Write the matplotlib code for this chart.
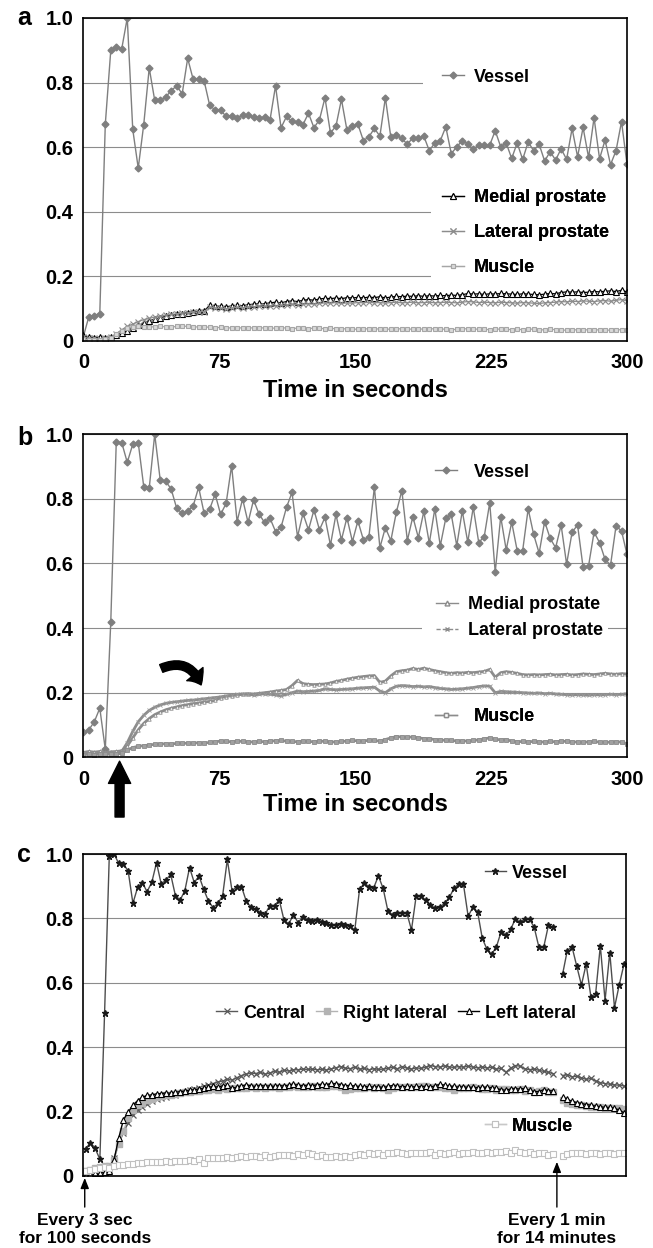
import numpy as np
import matplotlib
matplotlib.use("Agg")
import matplotlib.pyplot as plt
from matplotlib.lines import Line2D
from matplotlib.patches import Rectangle

nan = np.nan

# ---------------- panel a ----------------
vessel_a = [0.013, 0.075, 0.078, 0.085, 0.671, 0.90, 0.91, 0.905, 1.0, 0.655,
            0.535, 0.67, 0.845, 0.745, 0.745, 0.755, 0.775, 0.79, 0.765, 0.875,
            0.81, 0.812, 0.805, 0.73, 0.715, 0.715, 0.695, 0.697, 0.69, 0.70,
            0.70, 0.693, 0.69, 0.693, 0.685, 0.79, 0.66, 0.695, 0.68, 0.677,
            0.67, 0.705, 0.66, 0.685,
            0.753, 0.644, 0.665, 0.748, 0.653, 0.665, 0.671, 0.62, 0.632, 0.658,
            0.634, 0.753, 0.63, 0.637, 0.627, 0.609, 0.629, 0.627, 0.634, 0.589,
            0.613, 0.62, 0.663, 0.580, 0.601, 0.62, 0.611, 0.593, 0.608, 0.606,
            0.606, 0.651, 0.601, 0.613, 0.565, 0.613, 0.562, 0.616, 0.589, 0.609,
            0.557, 0.586, 0.560, 0.595, 0.562, 0.658, 0.570, 0.661, 0.568, 0.691,
            0.564, 0.622, 0.546, 0.589, 0.679, 0.547]
medial_a = [0.018, 0.012, 0.010, 0.012, 0.010, 0.012, 0.018, 0.025, 0.032, 0.040,
            0.048, 0.055, 0.062, 0.068, 0.072, 0.076, 0.080, 0.082, 0.085, 0.088,
            0.090, 0.092, 0.093, 0.110, 0.108, 0.107, 0.106, 0.108, 0.110, 0.109,
            0.112, 0.114, 0.116, 0.115, 0.118, 0.120, 0.118, 0.122, 0.124, 0.122,
            0.126, 0.128, 0.126, 0.130, 0.132, 0.131, 0.133, 0.131, 0.134, 0.133,
            0.135, 0.133, 0.136, 0.134, 0.137, 0.133, 0.136, 0.138, 0.137, 0.139,
            0.138, 0.140, 0.138, 0.140, 0.139, 0.141, 0.140, 0.142, 0.141, 0.143,
            0.147, 0.145, 0.146, 0.144, 0.146, 0.145, 0.147, 0.146, 0.145, 0.144,
            0.146, 0.145, 0.144, 0.143, 0.145, 0.147, 0.146, 0.150, 0.152, 0.151,
            0.152, 0.150, 0.151, 0.153, 0.152, 0.154, 0.155, 0.153, 0.157, 0.152]
lateral_a = [0.012, 0.008, 0.008, 0.006, 0.008, 0.012, 0.022, 0.035, 0.045, 0.052,
             0.060, 0.066, 0.070, 0.074, 0.077, 0.080, 0.082, 0.084, 0.086, 0.087,
             0.089, 0.090, 0.091, 0.105, 0.102, 0.101, 0.100, 0.102, 0.104, 0.103,
             0.105, 0.106, 0.108, 0.107, 0.109, 0.108, 0.110, 0.111, 0.113, 0.112,
             0.114, 0.115, 0.114, 0.116, 0.118, 0.117, 0.119, 0.116, 0.118, 0.117,
             0.119, 0.118, 0.120, 0.118, 0.119, 0.117, 0.119, 0.120, 0.118, 0.119,
             0.120, 0.118, 0.119, 0.120, 0.118, 0.119, 0.120, 0.119, 0.118, 0.120,
             0.122, 0.121, 0.119, 0.120, 0.119, 0.118, 0.120, 0.119, 0.118, 0.117,
             0.119, 0.118, 0.117, 0.116, 0.118, 0.119, 0.120, 0.122, 0.121, 0.123,
             0.122, 0.124, 0.123, 0.122, 0.124, 0.125, 0.123, 0.126, 0.128, 0.124]
muscle_a = [0.005, 0.004, 0.003, 0.004, 0.005, 0.008, 0.020, 0.032, 0.040, 0.044,
            0.045, 0.044, 0.043, 0.044, 0.045, 0.044, 0.043, 0.045, 0.046, 0.045,
            0.044, 0.043, 0.044, 0.042, 0.041, 0.042, 0.041, 0.040, 0.041, 0.040,
            0.041, 0.040, 0.041, 0.040, 0.039, 0.040, 0.041, 0.040, 0.038, 0.040,
            0.039, 0.038, 0.040, 0.039, 0.038, 0.039, 0.038, 0.037, 0.038, 0.037,
            0.036, 0.038, 0.037, 0.036, 0.038, 0.037, 0.036, 0.038, 0.037, 0.036,
            0.037, 0.038, 0.036, 0.037, 0.038, 0.036, 0.037, 0.035, 0.036, 0.037,
            0.038, 0.036, 0.037, 0.036, 0.035, 0.036, 0.037, 0.036, 0.035, 0.036,
            0.035, 0.036, 0.037, 0.035, 0.034, 0.036, 0.035, 0.034, 0.033, 0.035,
            0.034, 0.035, 0.034, 0.033, 0.035, 0.034, 0.033, 0.034, 0.035, 0.033]

# ---------------- panel b ----------------
vessel_b = [0.077, 0.085, 0.11, 0.152, 0.025, 0.42, 0.977, 0.974, 0.913, 0.969,
            0.974, 0.838, 0.833, 1.0, 0.859, 0.855, 0.83, 0.771, 0.755, 0.763,
            0.778, 0.836, 0.755, 0.768, 0.815, 0.752, 0.786, 0.903, 0.73, 0.80,
            0.727, 0.797, 0.753, 0.727, 0.74, 0.699, 0.712, 0.774, 0.82, 0.683,
            0.755, 0.704, 0.766, 0.704,
            0.743, 0.657, 0.752, 0.673, 0.742, 0.668, 0.732, 0.673, 0.683, 0.836,
            0.649, 0.711, 0.671, 0.759, 0.826, 0.671, 0.745, 0.68, 0.761, 0.663,
            0.769, 0.655, 0.74, 0.752, 0.655, 0.763, 0.666, 0.774, 0.665, 0.683,
            0.788, 0.573, 0.745, 0.642, 0.728, 0.64, 0.64, 0.769, 0.69, 0.632,
            0.73, 0.678, 0.649, 0.719, 0.598, 0.697, 0.719, 0.588, 0.593, 0.697,
            0.665, 0.613, 0.595, 0.716, 0.701, 0.628]
medial_b = [0.015, 0.018, 0.016, 0.018, 0.015, 0.017, 0.018, 0.020, 0.035, 0.060,
            0.085, 0.105, 0.120, 0.132, 0.140, 0.147, 0.152, 0.156, 0.160, 0.163,
            0.166, 0.168, 0.171, 0.173, 0.176, 0.185, 0.188, 0.191, 0.193, 0.195,
            0.197, 0.196, 0.198, 0.200, 0.202, 0.205, 0.207, 0.210, 0.222, 0.238,
            0.228, 0.226, 0.225, 0.226, 0.227, 0.230, 0.235, 0.238, 0.242, 0.245,
            0.248, 0.250, 0.252, 0.253, 0.232, 0.236, 0.252, 0.265, 0.268, 0.270,
            0.275, 0.272, 0.276, 0.272, 0.268, 0.265, 0.262, 0.260, 0.262, 0.261,
            0.263, 0.262, 0.264, 0.266, 0.272, 0.248, 0.262, 0.265, 0.263, 0.260,
            0.256, 0.255, 0.256, 0.255, 0.256, 0.257, 0.255, 0.256, 0.257, 0.255,
            0.256, 0.258, 0.257, 0.256, 0.258, 0.260, 0.258, 0.257, 0.259, 0.258]
lateral_b = [0.010, 0.012, 0.010, 0.012, 0.011, 0.012, 0.012, 0.018, 0.045, 0.080,
             0.110, 0.130, 0.145, 0.155, 0.162, 0.167, 0.170, 0.172, 0.174, 0.176,
             0.177, 0.179, 0.181, 0.183, 0.185, 0.187, 0.190, 0.192, 0.195, 0.196,
             0.195, 0.193, 0.195, 0.197, 0.195, 0.193, 0.190, 0.195, 0.200, 0.205,
             0.203, 0.204, 0.205, 0.207, 0.212, 0.210, 0.209, 0.210, 0.211, 0.212,
             0.214, 0.215, 0.216, 0.217, 0.205, 0.200, 0.212, 0.220, 0.222, 0.221,
             0.219, 0.220, 0.218, 0.219, 0.216, 0.213, 0.212, 0.210, 0.211, 0.212,
             0.214, 0.216, 0.219, 0.221, 0.220, 0.200, 0.204, 0.203, 0.202, 0.201,
             0.200, 0.199, 0.198, 0.199, 0.197, 0.198, 0.196, 0.195, 0.194, 0.193,
             0.194, 0.193, 0.192, 0.194, 0.193, 0.194, 0.195, 0.194, 0.195, 0.196]
muscle_b = [0.008, 0.010, 0.008, 0.010, 0.009, 0.010, 0.010, 0.012, 0.022, 0.030,
            0.034, 0.036, 0.038, 0.040, 0.041, 0.042, 0.041, 0.043, 0.044, 0.043,
            0.044, 0.045, 0.044, 0.046, 0.048, 0.050, 0.049, 0.048, 0.050, 0.049,
            0.048, 0.047, 0.049, 0.048, 0.050, 0.051, 0.052, 0.050, 0.049, 0.048,
            0.050, 0.049, 0.048, 0.050, 0.049, 0.048, 0.047, 0.049, 0.050, 0.052,
            0.051, 0.050, 0.053, 0.052, 0.050, 0.055, 0.060, 0.064, 0.063, 0.062,
            0.063, 0.060, 0.058, 0.057, 0.055, 0.054, 0.052, 0.053, 0.050, 0.051,
            0.050, 0.052, 0.054, 0.057, 0.060, 0.056, 0.054, 0.055, 0.050, 0.048,
            0.049, 0.048, 0.049, 0.048, 0.047, 0.049, 0.048, 0.050, 0.049, 0.048,
            0.047, 0.046, 0.048, 0.049, 0.047, 0.046, 0.047, 0.048, 0.047, 0.042]

# ---------------- panel c (115 acquisitions, one empty slot between protocols) ----------------
vessel_c = [0.084, 0.104, 0.086, 0.052, 0.505, 0.995, 1.0, 0.971, 0.969, 0.947,
            0.847, 0.896, 0.911, 0.883, 0.912, 0.973, 0.907, 0.919, 0.937, 0.871,
            0.857, 0.886, 0.958, 0.911, 0.932, 0.89, 0.854, 0.833, 0.847, 0.87,
            0.983, 0.885, 0.899, 0.899, 0.854, 0.834, 0.828, 0.816, 0.813, 0.84,
            0.84, 0.857, 0.795, 0.783, 0.811, 0.787, 0.805, 0.795, 0.793, 0.795,
            0.79, 0.785, 0.779, 0.779, 0.783, 0.779, 0.776, 0.764, 0.89, 0.909,
            0.899, 0.895, 0.932, 0.893, 0.824, 0.811, 0.816, 0.816, 0.818, 0.764,
            0.87, 0.87, 0.857, 0.842, 0.831, 0.834, 0.847, 0.865, 0.893, 0.907,
            0.907, 0.807, 0.834, 0.821, 0.738, 0.704, 0.689, 0.712, 0.759, 0.748,
            0.766, 0.798, 0.788, 0.798, 0.798, 0.772, 0.71, 0.71, 0.778, 0.772,
            nan,
            0.626, 0.70, 0.712, 0.652, 0.593, 0.658, 0.557, 0.565, 0.715, 0.545,
            0.694, 0.523, 0.593, 0.657]
central_c = [0.005, 0.008, 0.010, 0.012, 0.015, 0.020, 0.055, 0.100, 0.135, 0.165,
             0.190, 0.205, 0.215, 0.225, 0.232, 0.238, 0.242, 0.246, 0.250, 0.253,
             0.257, 0.262, 0.266, 0.270, 0.274, 0.278, 0.282, 0.287, 0.292, 0.295,
             0.300, 0.298, 0.305, 0.312, 0.316, 0.320, 0.318, 0.322, 0.316, 0.320,
             0.325, 0.322, 0.328, 0.326, 0.330, 0.330, 0.332, 0.331, 0.332, 0.330,
             0.331, 0.329, 0.333, 0.336, 0.340, 0.335, 0.333, 0.338, 0.332, 0.334,
             0.330, 0.333, 0.331, 0.332, 0.334, 0.338, 0.333, 0.340, 0.335, 0.332,
             0.336, 0.334, 0.338, 0.343, 0.340, 0.338, 0.342, 0.339, 0.337, 0.340,
             0.338, 0.341, 0.338, 0.336, 0.339, 0.335, 0.338, 0.332, 0.334, 0.322,
             0.335, 0.343, 0.341, 0.333, 0.330, 0.332, 0.328, 0.325, 0.322, 0.318,
             nan,
             0.312, 0.315, 0.308, 0.310, 0.305, 0.300, 0.303, 0.295, 0.290, 0.287,
             0.285, 0.283, 0.282, 0.280]
right_c = [0.015, 0.020, 0.025, 0.028, 0.030, 0.030, 0.050, 0.100, 0.140, 0.180,
           0.205, 0.220, 0.228, 0.235, 0.240, 0.244, 0.248, 0.250, 0.252, 0.255,
           0.258, 0.260, 0.262, 0.264, 0.265, 0.266, 0.268, 0.270, 0.268, 0.272,
           0.270, 0.272, 0.273, 0.272, 0.274, 0.275, 0.273, 0.276, 0.274, 0.275,
           0.276, 0.274, 0.277, 0.275, 0.278, 0.276, 0.277, 0.275, 0.278, 0.276,
           0.277, 0.275, 0.278, 0.279, 0.277, 0.268, 0.270, 0.272, 0.274, 0.273,
           0.275, 0.274, 0.276, 0.272, 0.268, 0.274, 0.276, 0.275, 0.277, 0.275,
           0.276, 0.278, 0.280, 0.277, 0.275, 0.276, 0.274, 0.272, 0.268, 0.273,
           0.274, 0.272, 0.275, 0.273, 0.271, 0.270, 0.272, 0.268, 0.270, 0.269,
           0.266, 0.268, 0.270, 0.265, 0.266, 0.262, 0.264, 0.268, 0.262, 0.260,
           nan,
           0.235, 0.228, 0.225, 0.222, 0.220, 0.218, 0.215, 0.214, 0.213, 0.212,
           0.212, 0.211, 0.210, 0.208]
left_c = [0.003, 0.005, 0.008, 0.010, 0.012, 0.015, 0.050, 0.118, 0.175, 0.198,
          0.220, 0.234, 0.245, 0.250, 0.252, 0.255, 0.256, 0.258, 0.257, 0.260,
          0.262, 0.264, 0.266, 0.268, 0.270, 0.272, 0.275, 0.278, 0.276, 0.280,
          0.282, 0.272, 0.276, 0.280, 0.283, 0.280, 0.278, 0.281, 0.279, 0.280,
          0.278, 0.281, 0.279, 0.282, 0.285, 0.282, 0.280, 0.282, 0.281, 0.283,
          0.285, 0.283, 0.288, 0.286, 0.284, 0.280, 0.282, 0.279, 0.278, 0.277,
          0.278, 0.276, 0.277, 0.275, 0.278, 0.281, 0.279, 0.277, 0.278, 0.276,
          0.278, 0.277, 0.279, 0.276, 0.280, 0.285, 0.282, 0.279, 0.278, 0.276,
          0.277, 0.275, 0.276, 0.274, 0.275, 0.276, 0.274, 0.272, 0.268, 0.266,
          0.270, 0.271, 0.270, 0.272, 0.266, 0.262, 0.262, 0.268, 0.265, 0.264,
          nan,
          0.245, 0.238, 0.232, 0.228, 0.225, 0.222, 0.220, 0.217, 0.215, 0.213,
          0.213, 0.210, 0.205, 0.196]
muscle_c = [0.015, 0.020, 0.022, 0.025, 0.028, 0.026, 0.030, 0.033, 0.035, 0.036,
            0.038, 0.040, 0.041, 0.042, 0.044, 0.045, 0.044, 0.046, 0.045, 0.047,
            0.048, 0.046, 0.050, 0.048, 0.052, 0.040, 0.055, 0.056, 0.055, 0.057,
            0.058, 0.057, 0.059, 0.063, 0.058, 0.062, 0.063, 0.060, 0.064, 0.058,
            0.063, 0.065, 0.064, 0.066, 0.063, 0.068, 0.066, 0.070, 0.069, 0.062,
            0.065, 0.058, 0.060, 0.062, 0.058, 0.062, 0.060, 0.066, 0.068, 0.066,
            0.070, 0.068, 0.071, 0.064, 0.072, 0.070, 0.073, 0.071, 0.069, 0.071,
            0.070, 0.072, 0.070, 0.073, 0.066, 0.070, 0.069, 0.071, 0.074, 0.068,
            0.070, 0.072, 0.073, 0.070, 0.072, 0.074, 0.070, 0.076, 0.074, 0.078,
            0.072, 0.082, 0.075, 0.070, 0.074, 0.067, 0.072, 0.070, 0.065, 0.068,
            nan,
            0.062, 0.068, 0.072, 0.070, 0.072, 0.069, 0.072, 0.071, 0.067, 0.070,
            0.071, 0.069, 0.071, 0.070]

yticks = [0, 0.2, 0.4, 0.6, 0.8, 1.0]
ytick_labels = ["0", "0.2", "0.4", "0.6", "0.8", "1.0"]
xticks_ab = [0, 75, 150, 225, 300]

FONT = "Liberation Sans"
plt.rcParams["font.family"] = [FONT, "DejaVu Sans"]
plt.rcParams["font.weight"] = "bold"
LEG_PROP = dict(family=FONT, weight="bold", size=13)

t_a = np.linspace(0, 300, len(vessel_a))
t_b = np.linspace(0, 300, len(vessel_b))
x_c = np.arange(len(vessel_c)) + 0.5

fig = plt.figure(figsize=(6.53, 12.48), dpi=100)
ax_a = fig.add_axes([0.1276, 0.7268, 0.8326, 0.2588])
ax_b = fig.add_axes([0.1276, 0.3932, 0.8326, 0.2588])
ax_c = fig.add_axes([0.1276, 0.0577, 0.8315, 0.2580])


def style_axes(ax):
    ax.set_ylim(0, 1.0)
    ax.set_yticks(yticks)
    ax.set_yticklabels(ytick_labels)
    ax.yaxis.grid(True, color="#8c8c8c", lw=0.8)
    ax.set_axisbelow(True)
    ax.tick_params(length=0, labelsize=14.5)
    ax.tick_params(axis="y", pad=7)
    ax.tick_params(axis="x", pad=9)
    for lab in ax.get_yticklabels() + ax.get_xticklabels():
        lab.set_fontweight("bold")
    for s in ax.spines.values():
        s.set_linewidth(1.2)
        s.set_color("black")


def mask(ax, x0, y0, w, h):
    ax.add_patch(Rectangle((x0, y0), w, h, transform=ax.transAxes,
                           facecolor="white", edgecolor="none", zorder=1))


def legend(ax, handles, labels, anchor, **kw):
    opts = dict(loc="center left", frameon=False, borderpad=0, borderaxespad=0,
                handlelength=1.2, handletextpad=0.55, labelspacing=1.0,
                prop=LEG_PROP)
    opts.update(kw)
    leg = ax.legend(handles, labels, bbox_to_anchor=anchor, **opts)
    ax.add_artist(leg)
    return leg


# ---------- a ----------
ax = ax_a
la_v, = ax.plot(t_a, vessel_a, color="#7f7f7f", lw=1, marker="D", ms=3.5,
                mfc="#7f7f7f", mec="#7f7f7f")
la_m, = ax.plot(t_a, medial_a, color="black", lw=0.9, marker="^", ms=4,
                mfc="white", mec="black", mew=0.8)
la_l, = ax.plot(t_a, lateral_a, color="#8c8c8c", lw=0.9, marker="x", ms=4,
                mec="#8c8c8c", mew=0.8)
la_mu, = ax.plot(t_a, muscle_a, color="#a6a6a6", lw=0.9, marker="s", ms=3.5,
                 mfc="#d9d9d9", mec="#a6a6a6", mew=0.8)
style_axes(ax)
ax.set_xlim(0, 300)
ax.set_xticks(xticks_ab)
ax.set_xlabel("Time in seconds", fontsize=17, fontweight="bold", labelpad=5)
mask(ax, 0.625, 0.76, 0.375, 0.11)
mask(ax, 0.64, 0.17, 0.36, 0.30)
legend(ax, [la_v], ["Vessel"], (0.66, 0.817))
legend(ax, [la_m, la_l, la_mu], ["Medial prostate", "Lateral prostate", "Muscle"],
       (0.66, 0.3345), labelspacing=1.0)

# ---------- b ----------
ax = ax_b
gray = "#8c8c8c"
ax.plot(t_b, vessel_b, color="#7f7f7f", lw=1, marker="D", ms=3.5,
        mfc="#7f7f7f", mec="#7f7f7f")
ax.plot(t_b, medial_b, color=gray, lw=2, marker="^", ms=2.5, mfc="white", mec=gray, mew=0.6)
ax.plot(t_b, lateral_b, color=gray, lw=2, marker="x", ms=3, mec="#9a9a9a", mew=0.6)
ax.plot(t_b, muscle_b, color=gray, lw=2, marker="s", ms=3, mfc="#a0a0a0", mec=gray, mew=0.6)
style_axes(ax)
ax.set_xlim(0, 300)
ax.set_xticks(xticks_ab)
ax.set_xlabel("Time in seconds", fontsize=17, fontweight="bold", labelpad=3)
mask(ax, 0.623, 0.36, 0.342, 0.14)
hb_v = Line2D([], [], color="#7f7f7f", lw=1, marker="D", ms=3.5, mfc="#7f7f7f", mec="#7f7f7f")
hb_m = Line2D([], [], color=gray, lw=1, marker="^", ms=3.5, mfc="white", mec=gray)
hb_l = Line2D([], [], color=gray, lw=1, ls=(0, (3, 1.5)), marker="x", ms=3.5, mec=gray)
hb_mu = Line2D([], [], color=gray, lw=1, marker="s", ms=3.5, mfc="white", mec=gray)
legend(ax, [hb_v], ["Vessel"], (0.647, 0.883), handletextpad=0.95)
legend(ax, [hb_m, hb_l], ["Medial prostate", "Lateral prostate"], (0.649, 0.433),
       labelspacing=0.5)
legend(ax, [hb_mu], ["Muscle"], (0.647, 0.125), handletextpad=0.95)

# contrast arrival arrow and curve-crossing arrow
xa = ax.get_xaxis_transform()
ax.annotate("", xy=(20, -0.012), xycoords=xa, xytext=(20, -0.185), textcoords=xa,
            annotation_clip=False,
            arrowprops=dict(arrowstyle="simple,head_length=1.6,head_width=1.6,tail_width=0.65",
                            mutation_scale=10, fc="black", ec="black", shrinkA=0, shrinkB=0))
ax.annotate("", xy=(65, 0.224), xytext=(43, 0.275),
            arrowprops=dict(arrowstyle="simple,head_length=0.9,head_width=1.5,tail_width=0.6",
                            connectionstyle="arc3,rad=-0.5", mutation_scale=10,
                            fc="black", ec="black", shrinkA=0, shrinkB=0))

# ---------- c ----------
ax = ax_c
lc_v, = ax.plot(x_c, vessel_c, color="#4d4d4d", lw=1, marker="*", ms=5,
                mfc="#1a1a1a", mec="#1a1a1a")
lc_c, = ax.plot(x_c, central_c, color="#595959", lw=1, marker="x", ms=4.5,
                mec="#595959", mew=0.9)
lc_r, = ax.plot(x_c, right_c, color="#b3b3b3", lw=1, marker="s", ms=4.5,
                mfc="#b3b3b3", mec="#b3b3b3")
lc_l, = ax.plot(x_c, left_c, color="black", lw=1, marker="^", ms=4.5,
                mfc="white", mec="black", mew=0.8)
lc_mu, = ax.plot(x_c, muscle_c, color="#c8c8c8", lw=1, marker="s", ms=4.5,
                 mfc="white", mec="#c0c0c0", mew=0.8)
style_axes(ax)
ax.set_xlim(0, len(vessel_c))
ax.set_xticks([])
legend(ax, [lc_v], ["Vessel"], (0.739, 0.941), handletextpad=0.3)
legend(ax, [lc_c, lc_r, lc_l], ["Central", "Right lateral", "Left lateral"],
       (0.244, 0.506), ncol=3, handletextpad=0.3, columnspacing=0.6)
legend(ax, [lc_mu], ["Muscle"], (0.739, 0.155), handletextpad=0.3)

xc = ax.get_xaxis_transform()
note = dict(ha="center", va="center", fontsize=12.5, fontweight="bold",
            linespacing=1.25, annotation_clip=False,
            arrowprops=dict(arrowstyle="-|>,head_length=0.5,head_width=0.2",
                            color="black", lw=1, shrinkA=2, shrinkB=0))
ax.annotate("Every 3 sec\nfor 100 seconds", xy=(0.3, -0.006), xycoords=xc,
            xytext=(0.3, -0.165), textcoords=xc, **note)
ax.annotate("Every 1 min\nfor 14 minutes", xy=(100.3, 0.044), xycoords=xc,
            xytext=(100.3, -0.165), textcoords=xc, **note)

# panel letters
fig.text(0.026, 1 - 25 / 1248, "a", fontsize=18, fontweight="bold", va="baseline")
fig.text(0.026, 1 - 445 / 1248, "b", fontsize=18, fontweight="bold", va="baseline")
fig.text(0.026, 1 - 862 / 1248, "c", fontsize=18, fontweight="bold", va="baseline")

fig.savefig("out.png", dpi=100)
